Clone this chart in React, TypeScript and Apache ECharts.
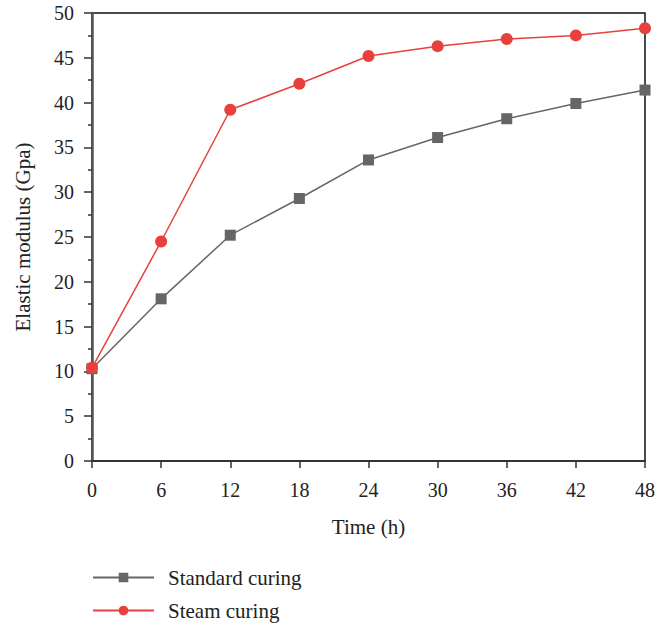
import React, { useEffect, useRef } from "react";
import * as echarts from "echarts";

const hours = [0, 6, 12, 18, 24, 30, 36, 42, 48];
const standardCuring = [10.3, 18.1, 25.2, 29.3, 33.6, 36.1, 38.2, 39.9, 41.4];
const steamCuring = [10.4, 24.5, 39.2, 42.1, 45.2, 46.3, 47.1, 47.5, 48.3];
const seriesNames = ["Standard curing", "Steam curing"];

const FONT = "Liberation Serif";

export default function App() {
  const ref = useRef<HTMLDivElement>(null);
  useEffect(() => {
    if (!ref.current) return;
    const chart = echarts.init(ref.current, undefined, { renderer: "svg" });
    const pair = (arr: number[]) => hours.map((h, i) => [h, arr[i]]);
    chart.setOption({
      animation: false,
      textStyle: { fontFamily: FONT },
      grid: {
        left: 92,
        right: 10,
        top: 13,
        bottom: 166,
        show: true,
        borderColor: "#111",
        borderWidth: 1.5,
      },
      legend: {
        orient: "vertical",
        left: 87,
        top: 562,
        itemWidth: 61,
        itemHeight: 12,
        itemGap: 12,
        textStyle: { fontFamily: FONT, fontSize: 21, color: "#222", padding: [0, 0, 0, 9] },
        data: seriesNames,
      },
      xAxis: {
        type: "value",
        min: 0,
        max: 48,
        interval: 6,
        name: "Time (h)",
        nameLocation: "middle",
        nameGap: 55,
        nameTextStyle: { fontFamily: FONT, fontSize: 21, color: "#222" },
        axisLine: { show: true, onZero: false, lineStyle: { color: "#333", width: 2 } },
        axisTick: { show: true, inside: false, length: 7, lineStyle: { color: "#333", width: 1.5 } },
        axisLabel: { fontFamily: FONT, fontSize: 20, color: "#222", margin: 19 },
        splitLine: { show: false },
      },
      yAxis: {
        type: "value",
        min: 0,
        max: 50,
        interval: 5,
        name: "Elastic modulus (Gpa)",
        nameLocation: "middle",
        nameGap: 59,
        nameTextStyle: { fontFamily: FONT, fontSize: 21, color: "#222" },
        axisLine: { show: true, onZero: false, lineStyle: { color: "#555", width: 2.5 } },
        axisTick: { show: true, inside: false, length: 8, lineStyle: { color: "#333", width: 1.5 } },
        minorTick: { show: true, splitNumber: 2, length: 4, lineStyle: { color: "#333", width: 1.5 } },
        axisLabel: { fontFamily: FONT, fontSize: 20, color: "#222", margin: 18 },
        splitLine: { show: false },
        minorSplitLine: { show: false },
      },
      series: [
        {
          name: seriesNames[0],
          type: "line",
          data: pair(standardCuring),
          symbol: "rect",
          symbolSize: 11,
          itemStyle: { color: "#666666" },
          lineStyle: { color: "#666666", width: 1.5 },
          z: 2,
        },
        {
          name: seriesNames[1],
          type: "line",
          data: pair(steamCuring),
          symbol: "circle",
          symbolSize: 12,
          itemStyle: { color: "#e8403c" },
          lineStyle: { color: "#e8403c", width: 1.5 },
          z: 3,
        },
      ],
    });
    return () => chart.dispose();
  }, []);
  return <div ref={ref} style={{ width: 658, height: 627, position: "absolute", left: 0, top: 0 }} />;
}
